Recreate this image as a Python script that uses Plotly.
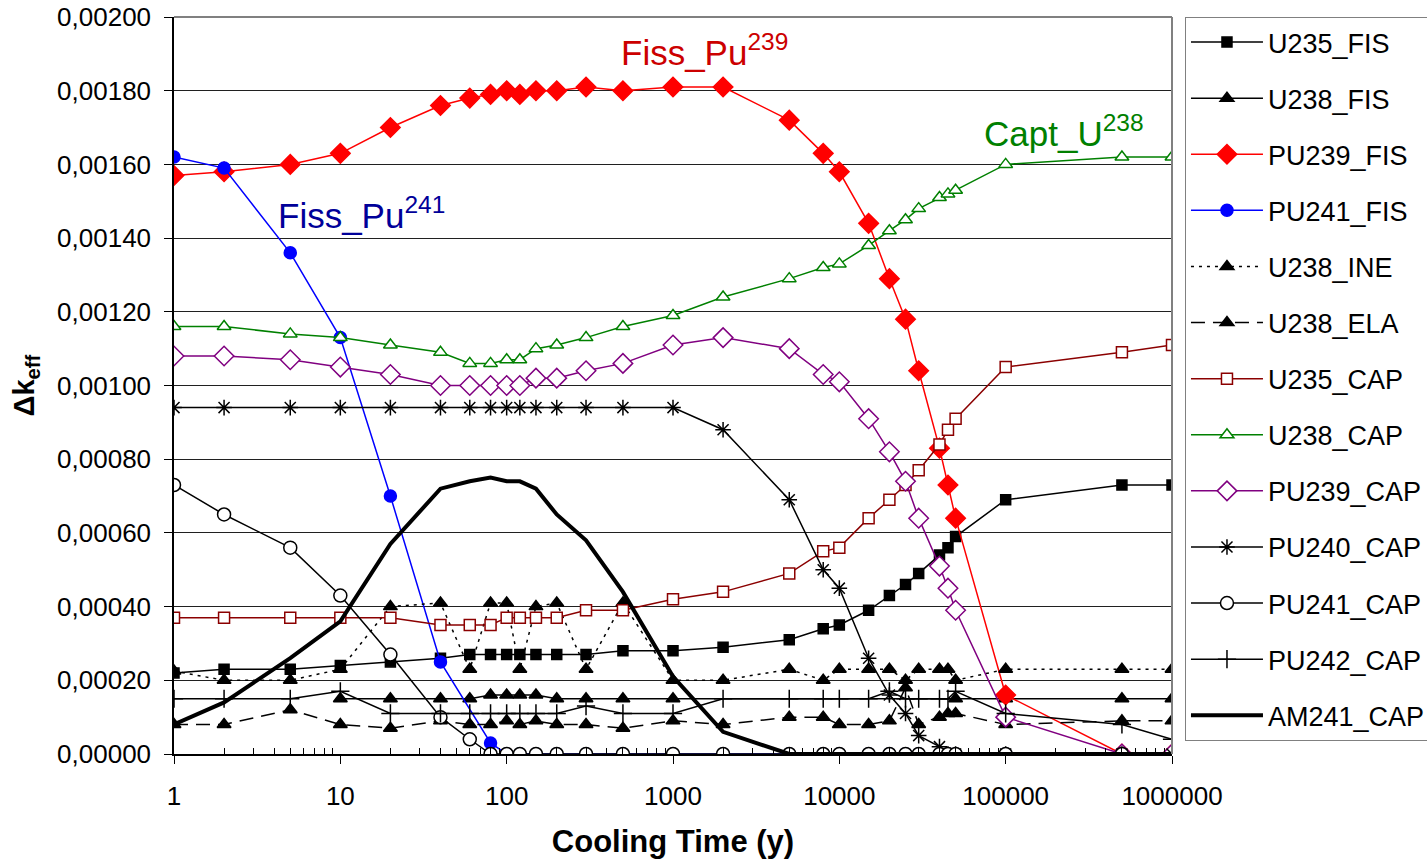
import plotly.graph_objects as go

# Cooling times (years)
cooling_time = [1, 2, 5, 10, 20, 40, 60, 80, 100, 120, 150, 200, 300, 500, 1000,
                2000, 5000, 8000, 10000, 15000, 20000, 25000, 30000, 40000, 45000,
                50000, 100000, 500000, 1000000]

u235_fis = [0.00022, 0.00023, 0.00023, 0.00024, 0.00025, 0.00026, 0.00027, 0.00027, 0.00027,
            0.00027, 0.00027, 0.00027, 0.00027, 0.00028, 0.00028, 0.00029, 0.00031, 0.00034,
            0.00035, 0.00039, 0.00043, 0.00046, 0.00049, 0.00054, 0.00056, 0.00059, 0.00069,
            0.00073, 0.00073]
u238_fis = [None, None, None, 0.00015, 0.00015, 0.00015, 0.00015, 0.00016, 0.00016, 0.00016,
            0.00016, 0.00015, 0.00015, 0.00015, 0.00015, None, None, None, None, None, None,
            None, None, None, None, 0.00015, 0.00015, 0.00015, 0.00015]
pu239_fis = [0.00157, 0.00158, 0.00160, 0.00163, 0.00170, 0.00176, 0.00178, 0.00179, 0.00180,
             0.00179, 0.00180, 0.00180, 0.00181, 0.00180, 0.00181, 0.00181, 0.00172, 0.00163,
             0.00158, 0.00144, 0.00129, 0.00118, 0.00104, 0.00083, 0.00073, 0.00064, 0.00016,
             0.0, 0.0]
pu241_fis = [0.00162, 0.00159, 0.00136, 0.00113, 0.00070, 0.00025, None, 0.00003, 0.0, 0.0,
             0.0, 0.0, 0.0, 0.0, 0.0, 0.0, 0.0, 0.0, 0.0, 0.0, 0.0, 0.0, 0.0, 0.0, 0.0, 0.0,
             0.0, 0.0, 0.0]
u238_ine = [0.000225, 0.00020, 0.00020, 0.00023, 0.00040, 0.00041, 0.00023, 0.00041, 0.00041,
            0.00023, 0.00040, 0.00041, 0.00023, 0.00041, 0.00020, 0.00020, 0.00023, 0.00020,
            0.00023, 0.00023, 0.00023, 0.00020, 0.00023, 0.00023, 0.00023, 0.00020, 0.00023,
            0.00023, 0.00023]
u238_ela = [0.00008, 0.00008, 0.00012, 0.00008, 0.00007, 0.00009, 0.00008, 0.00008, 0.00009,
            0.00008, 0.00009, 0.00008, 0.00008, 0.00007, 0.00009, 0.00008, 0.00010, 0.00010,
            0.00008, 0.00008, 0.00009, 0.00018, 0.00008, 0.00010, 0.00011, 0.00011, 0.00008,
            0.00009, 0.00009]
u235_cap = [0.00037, 0.00037, 0.00037, 0.00037, 0.00037, 0.00035, 0.00035, 0.00035, 0.00037,
            0.00037, 0.00037, 0.00037, 0.00039, 0.00039, 0.00042, 0.00044, 0.00049, 0.00055,
            0.00056, 0.00064, 0.00069, 0.00073, 0.00077, 0.00084, 0.00088, 0.00091, 0.00105,
            0.00109, 0.00111]
u238_cap = [0.00116, 0.00116, 0.00114, 0.00113, 0.00111, 0.00109, 0.00106, 0.00106, 0.00107,
            0.00107, 0.00110, 0.00111, 0.00113, 0.00116, 0.00119, 0.00124, 0.00129, 0.00132,
            0.00133, 0.00138, 0.00142, 0.00145, 0.00148, 0.00151, 0.00152, 0.00153, 0.00160,
            0.00162, 0.00162]
pu239_cap = [0.00108, 0.00108, 0.00107, 0.00105, 0.00103, 0.00100, 0.00100, 0.00100, 0.00100,
             0.00100, 0.00102, 0.00102, 0.00104, 0.00106, 0.00111, 0.00113, 0.00110, 0.00103,
             0.00101, 0.00091, 0.00082, 0.00074, 0.00064, 0.00051, 0.00045, 0.00039, 0.00010,
             0.0, 0.0]
pu240_cap = [0.00094, 0.00094, 0.00094, 0.00094, 0.00094, 0.00094, 0.00094, 0.00094, 0.00094,
             0.00094, 0.00094, 0.00094, 0.00094, 0.00094, 0.00094, 0.00088, 0.00069, 0.00050,
             0.00045, 0.00026, 0.00016, 0.00011, 0.00005, 0.00002, 0.0, 0.0, 0.0, 0.0, 0.0]
pu241_cap = [0.00073, 0.00065, 0.00056, 0.00043, 0.00027, 0.00010, 0.00004, 0.0, 0.0, 0.0,
             0.0, 0.0, 0.0, 0.0, 0.0, 0.0, 0.0, 0.0, 0.0, 0.0, 0.0, 0.0, 0.0, 0.0, 0.0, 0.0,
             0.0, 0.0, None]
pu242_cap = [0.00015, 0.00015, 0.00015, 0.00017, 0.00011, 0.00011, 0.00011, 0.00011, 0.00011,
             0.00011, 0.00011, 0.00011, 0.00013, 0.00011, 0.00011, 0.00015, 0.00015, 0.00015,
             0.00015, 0.00015, 0.00017, 0.00015, 0.00015, 0.00015, 0.00015, 0.00017, 0.00011,
             0.00008, 0.00004]
am241_cap = [0.00008, 0.00014, 0.00026, 0.00036, 0.00057, 0.00072, 0.00074, 0.00075, 0.00074,
             0.00074, 0.00072, 0.00065, 0.00058, 0.00044, 0.00021, 0.00006, 0.0, 0.0, 0.0, 0.0,
             0.0, 0.0, 0.0, 0.0, 0.0, 0.0, 0.0, 0.0, 0.0]

x_tick_vals = [1, 10, 100, 1000, 10000, 100000, 1000000]
x_tick_text = ["1", "10", "100", "1000", "10000", "100000", "1000000"]

FONT = "Liberation Sans, Arial, sans-serif"

# name, values, line colour, dash, width, marker symbol, marker size, marker fill, marker edge
series = [
    ("U235_FIS", u235_fis, "black", "solid", 1.5, "square", 10, "black", "black"),
    ("U238_FIS", u238_fis, "black", "solid", 1.5, "triangle-up", 12, "black", "black"),
    ("PU239_FIS", pu239_fis, "#ff0000", "solid", 1.5, "diamond", 15, "#ff0000", "#ff0000"),
    ("PU241_FIS", pu241_fis, "#0000ff", "solid", 1.5, "circle", 12, "#0000ff", "#0000ff"),
    ("U238_INE", u238_ine, "black", "3px,5px", 1.5, "triangle-up", 12, "black", "black"),
    ("U238_ELA", u238_ela, "black", "14px,8px", 1.5, "triangle-up", 12, "black", "black"),
    ("U235_CAP", u235_cap, "#8b0000", "solid", 1.5, "square", 11, "white", "#8b0000"),
    ("U238_CAP", u238_cap, "#008000", "solid", 1.5, "triangle-up", 12, "white", "#008000"),
    ("PU239_CAP", pu239_cap, "#800080", "solid", 1.5, "diamond", 15, "white", "#800080"),
    ("PU240_CAP", pu240_cap, "black", "solid", 1.5, "asterisk-open", 13, "black", "black"),
    ("PU241_CAP", pu241_cap, "black", "solid", 1.5, "circle", 13, "white", "black"),
    ("PU242_CAP", pu242_cap, "black", "solid", 1.5, "cross-thin-open", 13, "black", "black"),
    ("AM241_CAP", am241_cap, "black", "solid", 4, None, 0, "black", "black"),
]

fig = go.Figure()
for name, vals, color, dash, width, symbol, size, fill, edge in series:
    if symbol is None:
        mode = "lines"
        marker = None
    else:
        mode = "lines+markers"
        marker = dict(symbol=symbol, size=size, color=fill,
                      line=dict(color=edge, width=1.5))
    fig.add_trace(go.Scatter(
        x=cooling_time, y=vals, name=name, mode=mode,
        line=dict(color=color, width=width, dash=dash),
        marker=marker, connectgaps=True, legendgroup=name,
    ))

minor_vals = [m * 10 ** d for d in range(6) for m in range(2, 10)]

fig.update_layout(
    width=1427, height=859,
    paper_bgcolor="white", plot_bgcolor="white",
    separators=", ",
    font=dict(family=FONT, color="black", size=24),
    margin=dict(l=174, r=255, t=17, b=105, autoexpand=False),
    showlegend=True,
    legend=dict(
        x=1.013, y=1.0, xanchor="left", yanchor="top",
        bordercolor="#808080", borderwidth=1,
        font=dict(family=FONT, size=27, color="black"),
        tracegroupgap=18, itemwidth=72, traceorder="grouped",
    ),
    xaxis=dict(
        type="log", range=[0, 6],
        tickmode="array", tickvals=x_tick_vals, ticktext=x_tick_text,
        ticks="outside", ticklen=8, tickcolor="black", tickwidth=1,
        showline=True, linecolor="black", linewidth=1.5,
        showgrid=False, zeroline=False,
        tickfont=dict(family=FONT, size=26), ticklabelstandoff=10,
        minor=dict(tickmode="array", tickvals=minor_vals, ticks="inside",
                   ticklen=6, tickcolor="black", showgrid=False),
        title=dict(text="<b>Cooling Time (y)</b>", font=dict(family=FONT, size=31),
                   standoff=20),
    ),
    yaxis=dict(
        range=[0, 0.002], dtick=0.0002, tick0=0, tickformat=".5f",
        ticks="outside", ticklen=8, tickcolor="black",
        showline=True, linecolor="black", linewidth=1.5,
        showgrid=True, gridcolor="#202020", gridwidth=1, zeroline=False,
        tickfont=dict(family=FONT, size=26), ticklabelstandoff=8,
        title=dict(text="<b>Δk<sub>eff</sub></b>", font=dict(family=FONT, size=29),
                   standoff=14),
    ),
    shapes=[
        dict(type="line", xref="paper", yref="paper", x0=0, x1=1, y0=1, y1=1,
             line=dict(color="#808080", width=2)),
        dict(type="line", xref="paper", yref="paper", x0=1, x1=1, y0=0, y1=1,
             line=dict(color="#808080", width=2)),
    ],
    annotations=[
        dict(text="Fiss_Pu<sup>239</sup>", xref="paper", yref="paper", x=0.446, y=0.955,
             xanchor="left", yanchor="middle", showarrow=False,
             font=dict(family=FONT, size=35, color="#cc0000")),
        dict(text="Fiss_Pu<sup>241</sup>", xref="paper", yref="paper", x=0.102, y=0.734,
             xanchor="left", yanchor="middle", showarrow=False,
             font=dict(family=FONT, size=35, color="#000099")),
        dict(text="Capt_U<sup>238</sup>", xref="paper", yref="paper", x=0.81, y=0.845,
             xanchor="left", yanchor="middle", showarrow=False,
             font=dict(family=FONT, size=35, color="#008000")),
    ],
)

fig.write_html("out.html")
